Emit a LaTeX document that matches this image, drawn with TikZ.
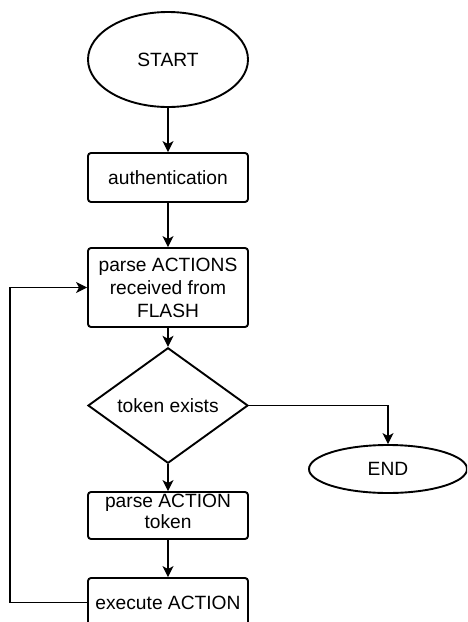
\documentclass[tikz,border=0pt]{standalone}
\usepackage{fontspec}
\setmainfont{Liberation Sans}
\usetikzlibrary{shapes.geometric,arrows.meta}
\begin{document}
\begin{tikzpicture}[x=1pt,y=-1pt,
  every node/.style={font=\fontsize{19.2}{23}\selectfont, align=center, inner sep=0pt},
  terminal/.style={draw, line width=1.9pt, ellipse, minimum width=160pt},
  process/.style={draw, line width=1.9pt, rectangle, rounded corners=3pt, minimum width=160pt},
  decision/.style={draw, line width=1.9pt, diamond, minimum width=160pt, minimum height=93pt},
  flow/.style={line width=1.2pt, -{Stealth[length=11pt,width=11pt,inset=3pt]}}]
\clip (0,0) rectangle (467,622);
\useasboundingbox (0,0) rectangle (467,622);
\fill[white] (0,0) rectangle (467,622);

\node[terminal, minimum height=95pt] (start) at (168,59.5) {START};
\node[process, minimum height=49pt] (auth) at (168,177.5) {authentication};
\node[process, minimum height=79pt] (parseall) at (168,287.5) {parse ACTIONS\\received from\\FLASH};
\node[decision] (exists) at (168,405.5) {token exists};
\node[terminal, minimum height=48pt, minimum width=158pt] (finish) at (388,469) {END};
\node[process, minimum height=47pt] (parseone) at (168,515.5) {\raisebox{9pt}{\shortstack{parse ACTION\\[0pt]token}}};
\node[process, minimum height=49pt] (exec) at (168,602.5) {execute ACTION};

\draw[flow] (start) -- (auth);
\draw[flow] (auth) -- (parseall);
\draw[flow] (parseall) -- (exists);
\draw[flow] (exists.east) -| (finish.north);
\draw[flow] (exists) -- (parseone);
\draw[flow] (parseone) -- (exec);
\coordinate (loopcorner) at (10,602.5);
\draw[flow] (exec.west) -- (loopcorner) |- (parseall.west);
\end{tikzpicture}
\end{document}
